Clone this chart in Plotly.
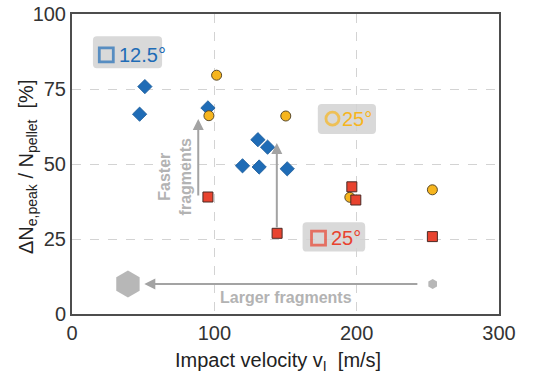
import plotly.graph_objects as go

# Impact velocity [m/s] and relative electron-density rise [%]
blue_v = [47.5, 51.2, 95.5, 119.8, 130.6, 131.5, 137.4, 151.2]
blue_n = [66.6, 75.8, 68.7, 49.4, 58.1, 49.0, 55.6, 48.4]

yellow_v = [101.6, 96.2, 150.2, 195.2, 253.2]
yellow_n = [79.6, 66.1, 66.0, 38.9, 41.4]

red_v = [95.5, 144.1, 196.6, 199.4, 253.2]
red_n = [39.0, 26.9, 42.4, 38.0, 25.8]

# fragment-size indicators (hexagons)
frag_v = [39.3, 253.4]
frag_n = [10.0, 10.0]

x_ticks = [0, 100, 200, 300]
y_ticks = [0, 25, 50, 75, 100]

BLUE = "#1f6cb6"
YELLOW = "#f6b51e"
RED = "#e8432f"
GREY = "#a3a3a3"
BOX = "#d9d9d9"
FONT = "Liberation Sans, Arial, sans-serif"

fig = go.Figure()

def rounded_box(x0, x1, y0, y1, rx=2.8, ry=1.4):
    path = (f"M{x0+rx},{y0} L{x1-rx},{y0} Q{x1},{y0} {x1},{y0+ry} "
            f"L{x1},{y1-ry} Q{x1},{y1} {x1-rx},{y1} L{x0+rx},{y1} "
            f"Q{x0},{y1} {x0},{y1-ry} L{x0},{y0+ry} Q{x0},{y0} {x0+rx},{y0} Z")
    fig.add_shape(type="path", path=path, xref="x", yref="y",
                  fillcolor=BOX, line=dict(width=0), layer="below")

# label boxes for the series
rounded_box(14.7, 63.3, 81.9, 92.6)
rounded_box(172.7, 213.6, 60.0, 70.0)
rounded_box(162.0, 206.0, 20.8, 30.6)

fig.add_trace(go.Scatter(
    x=[24.1, 183.0, 173.2], y=[86.4, 65.1, 25.3], mode="markers",
    marker=dict(symbol=["square-open", "circle-open", "square-open"],
                size=[14, 13, 14], color=[BLUE, YELLOW, RED],
                line=dict(width=2.8, color=[BLUE, YELLOW, RED])),
    hoverinfo="skip", showlegend=False))

for x, y, t, c in [(49.2, 86.4, "12.5°", BLUE), (200.5, 65.1, "25°", YELLOW),
                   (192.4, 25.3, "25°", RED)]:
    fig.add_annotation(x=x, y=y, text=t, showarrow=False,
                       font=dict(family=FONT, size=20, color=c))

# arrows
arrow = dict(showarrow=True, arrowhead=2, arrowsize=1.1, arrowwidth=2,
             arrowcolor=GREY, xref="x", yref="y", axref="x", ayref="y", text="")
fig.add_annotation(x=50.8, y=10.0, ax=243.7, ay=10.0, **arrow)
fig.add_annotation(x=88.7, y=65.0, ax=88.7, ay=39.0, **arrow)
fig.add_annotation(x=143.9, y=57.0, ax=143.9, ay=28.3, **arrow)

fig.add_annotation(x=150.5, y=5.6, text="<b>Larger fragments</b>", showarrow=False,
                   font=dict(family=FONT, size=16, color="#b3b3b3"))
fig.add_annotation(x=72.5, y=45.6, text="<b>Faster<br>fragments</b>", showarrow=False,
                   textangle=-90, align="center",
                   font=dict(family=FONT, size=16, color="#b3b3b3"))

fig.add_trace(go.Scatter(
    x=frag_v, y=frag_n, mode="markers",
    marker=dict(symbol="hexagon", size=[27, 10], color="#999999", line=dict(width=0)),
    hoverinfo="skip", showlegend=False))

fig.add_trace(go.Scatter(
    x=blue_v, y=blue_n, mode="markers", name="12.5°",
    marker=dict(symbol="diamond", size=11, color=BLUE,
                line=dict(width=0.8, color="#1a5a98")), showlegend=False))
fig.add_trace(go.Scatter(
    x=yellow_v, y=yellow_n, mode="markers", name="25° (circle)",
    marker=dict(symbol="circle", size=10, color=YELLOW,
                line=dict(width=1, color="#5a4a2a")), showlegend=False))
fig.add_trace(go.Scatter(
    x=red_v, y=red_n, mode="markers", name="25° (square)",
    marker=dict(symbol="square", size=10, color=RED,
                line=dict(width=1, color="#4a2a25")), showlegend=False))

axis_common = dict(showline=True, mirror=True, linecolor="#4d4d4d", linewidth=2,
                   showgrid=True, gridcolor="#d3d3d3", gridwidth=1.3, griddash="dash",
                   zeroline=False, ticks="", automargin=False,
                   tickfont=dict(family=FONT, size=20, color="#333333"))

fig.update_xaxes(range=[0, 300], tickvals=x_ticks, ticktext=[str(v) for v in x_ticks],
                 **axis_common)
fig.update_yaxes(range=[0, 100], tickvals=y_ticks, ticktext=[str(v) for v in y_ticks],
                 **axis_common)

# axis titles
fig.add_annotation(xref="paper", yref="paper", x=0.483, y=0, yshift=-47,
                   xanchor="center", yanchor="middle",
                   text="Impact velocity v<sub>I</sub>  [m/s]", showarrow=False,
                   font=dict(family=FONT, size=20, color="#222222"))
fig.add_annotation(xref="paper", yref="paper", x=0, xshift=-45, y=0.49,
                   xanchor="center", yanchor="middle",
                   text="ΔN<sub>e,peak</sub> / N<sub>pellet</sub>  [%]", showarrow=False,
                   textangle=-90, font=dict(family=FONT, size=20, color="#222222"))

fig.update_layout(width=551, height=374, margin=dict(l=72, r=52, t=14, b=60),
                  plot_bgcolor="white", paper_bgcolor="white", showlegend=False)

fig.write_html("out.html")
